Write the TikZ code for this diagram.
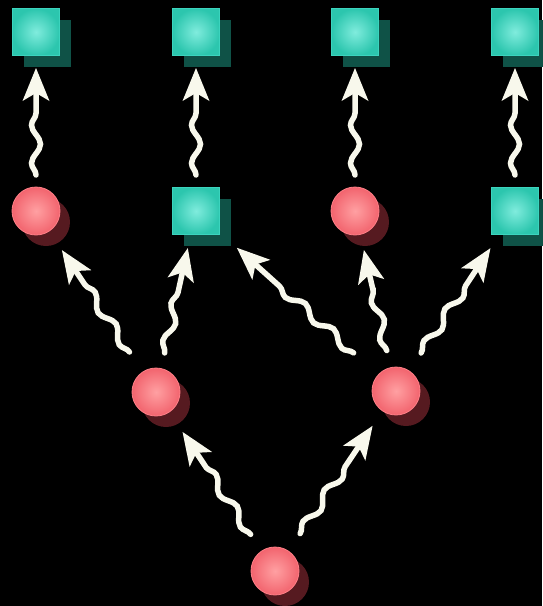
\documentclass[tikz,border=0pt]{standalone}
\usetikzlibrary{shadows,calc,decorations.pathmorphing,arrows.meta}
\definecolor{redin}{HTML}{FFA0A2}
\definecolor{redout}{HTML}{F2646E}
\definecolor{redrim}{HTML}{FF8088}
\definecolor{redsh}{HTML}{561A20}
\definecolor{tealin}{HTML}{80ECDD}
\definecolor{tealout}{HTML}{2CC6AE}
\definecolor{tealrim}{HTML}{3CD4BE}
\definecolor{tealsh}{HTML}{0F5247}
\definecolor{wavec}{HTML}{F8F8EC}
\tikzset{
  ball/.style={circle, minimum size=48pt, inner sep=0pt, outer sep=0pt,
    shading=radial, inner color=redin, outer color=redout, draw=redrim, line width=0.8pt,
    drop shadow={shadow xshift=10pt, shadow yshift=-11pt, fill=redsh, opacity=1}},
  box/.style={rectangle, minimum size=47pt, inner sep=0pt, outer sep=0pt,
    shading=radial, inner color=tealin, outer color=tealout, draw=tealrim, line width=0.8pt,
    drop shadow={shadow xshift=11pt, shadow yshift=-11pt, fill=tealsh, opacity=1}},
  wave/.style={draw=wavec, line width=5.5pt, line cap=round,
    decorate, decoration={snake, amplitude=4.5pt, segment length=38pt, post length=40pt},
    -{Stealth[length=33pt, width=27pt, inset=8pt, line width=0pt]}}
}
\newcommand{\wv}[4]{\draw[wave] ($(#1)!#3pt!(#2)$) -- ($(#2)!#4pt!(#1)$);}
\begin{document}
\begin{tikzpicture}[x=1pt,y=-1pt]
\fill[black] (0,0) rectangle (542,606);
\useasboundingbox (0,0) rectangle (542,606);
% top row
\node[box] (t1) at (36,32) {};
\node[box] (t2) at (196,32) {};
\node[box] (t3) at (355,32) {};
\node[box] (t4) at (515,32) {};
% second row
\node[ball] (c2a) at (36,211) {};
\node[box]  (s2b) at (196,211) {};
\node[ball] (c2c) at (355,211) {};
\node[box]  (s2d) at (515,211) {};
% third row
\node[ball] (c3a) at (156,392) {};
\node[ball] (c3b) at (396,391) {};
% bottom
\node[ball] (c4) at (275,571) {};
% connectors
\wv{c4}{c3a}{44}{48}
\wv{c4}{c3b}{45}{42}
\wv{c3a}{c2a}{48}{47}
\wv{c3a}{s2b}{40}{38}
\wv{c3b}{s2b}{57}{55}
\wv{c3b}{c2c}{41.5}{40}
\wv{c3b}{s2d}{45.6}{44.6}
\wv{c2a}{t1}{36}{36}
\wv{s2b}{t2}{36}{36}
\wv{c2c}{t3}{36}{36}
\wv{s2d}{t4}{36}{36}
\end{tikzpicture}
\end{document}
